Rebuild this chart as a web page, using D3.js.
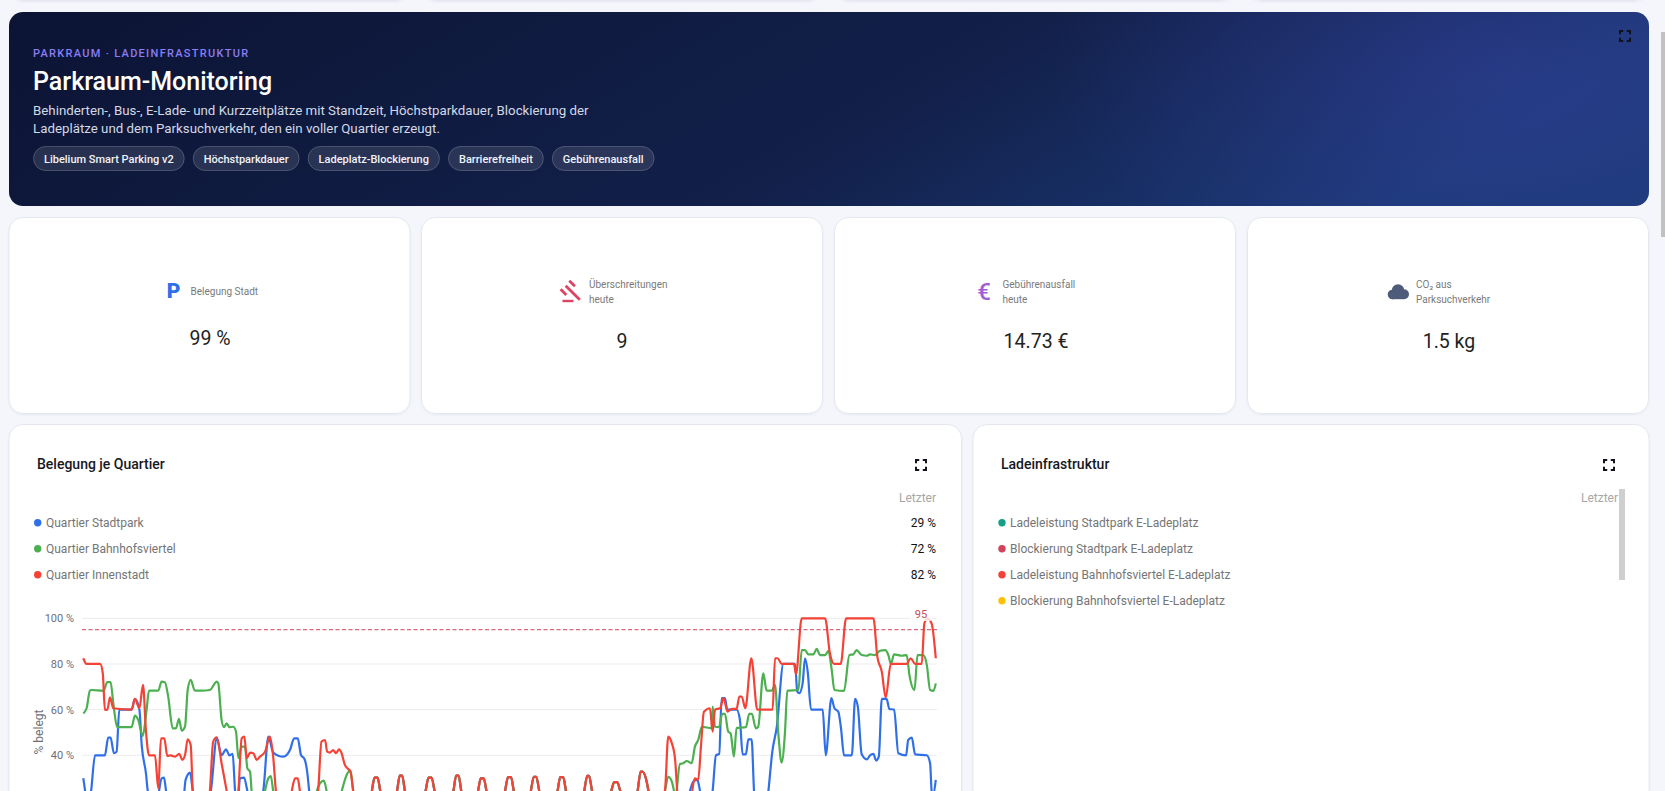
<!DOCTYPE html>
<html lang="de">
<head>
<meta charset="utf-8">
<title>Parkraum-Monitoring</title>
<script src="https://cdn.jsdelivr.net/npm/d3@7"></script>
<style>
  html, body { margin: 0; padding: 0; background: #f4f6fb; overflow: hidden; }
  svg { display: block; font-family: Roboto, sans-serif; }
</style>
</head>
<body>
<div id="page"></div>
<script>
// -- Texts
let heroEyebrow = 'PARKRAUM · LADEINFRASTRUKTUR'
let heroTitle = 'Parkraum-Monitoring'
let heroLines = ['Behinderten-, Bus-, E-Lade- und Kurzzeitplätze mit Standzeit, Höchstparkdauer, Blockierung der',
                 'Ladeplätze und dem Parksuchverkehr, den ein voller Quartier erzeugt.']
let chipLabels = ['Libelium Smart Parking v2', 'Höchstparkdauer', 'Ladeplatz-Blockierung', 'Barrierefreiheit', 'Gebührenausfall']

let statLabels = [['Belegung Stadt'], ['Überschreitungen', 'heute'], ['Gebührenausfall', 'heute'], ['CO₂ aus', 'Parksuchverkehr']]
let statValues = ['99 %', '9', '14.73 €', '1.5 kg']

let occupancyNames = ['Quartier Stadtpark', 'Quartier Bahnhofsviertel', 'Quartier Innenstadt']
let occupancyLast = ['29 %', '72 %', '82 %']
let occupancyColors = ['#2f6fe8', '#4caf50', '#f44336']

let chargingNames = ['Ladeleistung Stadtpark E-Ladeplatz', 'Blockierung Stadtpark E-Ladeplatz',
                     'Ladeleistung Bahnhofsviertel E-Ladeplatz', 'Blockierung Bahnhofsviertel E-Ladeplatz']
let chargingColors = ['#16a085', '#d1435b', '#f44336', '#ffc107']

let yTicks = [100, 80, 60, 40]
let limitValue = 95

// -- Sample numbers (5 min steps) and % values.
// Night section is the same for all three quarters, they overlap there.
let nightT = [94.5, 96.2, 97.1, 98.1, 99, 101.5, 104.6, 105.5, 106.3, 107.2, 110.5, 114.1, 115.1, 116.1, 117.1, 120,
              123.4, 124.3, 125.1, 126, 129, 131.6, 132.5, 133.5, 134.4, 137.5, 140.6, 141.6, 142.6, 143.5, 146.5,
              149.2, 150.2, 151, 152, 155, 158.1, 159, 160, 160.9, 164, 167, 168, 168.6, 169.6, 173,
              176, 177, 178, 179, 182, 184.8, 185.8, 186.4, 187.8, 188.4, 190]
let nightV = [12, 24.4, 30.2, 30.2, 24.4, 12, 24.4, 31.1, 31.1, 24.4, 12, 24.4, 30.2, 30.2, 24.4, 12,
              24.4, 31.1, 31.1, 24.4, 12, 24.4, 29.9, 29.9, 24.4, 12, 24.4, 30.4, 30.4, 24.4, 12,
              24.4, 30.6, 30.6, 24.4, 12, 24.4, 30.4, 30.4, 24.4, 12, 24.4, 31, 31, 24.4, 12,
              24.4, 28.2, 28.2, 24.4, 12, 24.4, 32.8, 32.8, 28.5, 24.4, 12]

let stadtparkDayT = [0, 0.6, 1.1, 2, 2.6, 3.9, 7.2, 8.3, 9.1, 10.2, 11.1, 12, 16.1, 17.2, 18.7, 19.5, 20.9, 21.5, 22.8, 24.7,
                     25.3, 26.1, 26.9, 27.6, 28.9, 33.3, 34.1, 35.6, 36.5, 37.8, 41.1, 42.5, 44.5, 46.1, 47.6, 48.7, 49.8,
                     50.6, 51.1, 51.8, 52.2, 53.6, 54.7, 55.6, 59.1, 60, 61.7, 63.3, 66.7, 68.9, 70.3, 71.5, 72.6, 73.7,
                     74.7, 75.3, 76.7]
let stadtparkDayV = [30, 24.4, 20, 20, 24.4, 40, 40, 47.7, 47.7, 40.9, 41.6, 60, 60, 64.7, 60, 44, 32, 24.4, 20, 20,
                     24.8, 29.9, 30.2, 24.4, 20, 20, 29.2, 32.4, 24.4, 20, 20, 24.4, 47.4, 40, 42.6, 40, 40.6,
                     24.4, 20, 24, 29.9, 30.2, 24.4, 20, 20, 24.4, 48.2, 41.2, 39.4, 42.3, 47.4, 47.4, 40, 38.5,
                     32.1, 24.4, 15]
let stadtparkEveT = [200, 203.4, 204.7, 205.6, 206.5, 208.9, 209.8, 210.9, 212, 212.8, 213.9, 214.7, 217.8, 218.9, 219.8, 220.9,
                     221.7, 222.8, 223.6, 224.5, 227.6, 228.4, 229.7, 231.2, 233.4, 237.3, 238, 238.7, 239.8, 240.6, 241.5,
                     242.6, 246.5, 247.5, 249.4, 250.4, 251.7, 252.6, 253.6, 256.2, 257.3, 258.2, 259.5, 261.2, 262.3, 263.4,
                     264.3, 265.2, 266.2, 267.8, 268.7, 270.3, 271.7, 274.3, 275, 276.2, 277.3, 281.2, 282.3, 282.8, 283.2, 284.2]
let stadtparkEveV = [15, 28.5, 29.2, 24.4, 18, 18, 24.4, 40, 40.6, 65, 65, 60, 60, 55.5, 40.4, 40.4,
                     47, 47, 24.4, 15, 15, 24.4, 41.6, 52.5, 80, 80, 68, 67.2, 71.5, 82.5, 76.6,
                     60, 60, 40, 65, 60.6, 59.1, 51.8, 40, 40, 64.7, 61.3, 40.4, 38.2, 40, 40.6,
                     37.7, 39.4, 64.7, 64.7, 60.3, 60, 40.9, 40, 46.7, 47.7, 40.4, 40, 36.5, 24.4, 22, 29.2]

let bahnhofDayT = [0, 1.1, 2.2, 2.8, 6.7, 8, 9.1, 10, 11.3, 16.1, 17.2, 18.3, 19.8, 21.1, 21.9, 25, 26.1, 27.2, 28.3, 29.8,
                   30.9, 31.9, 32.8, 33.9, 34.8, 35.8, 37.2, 39.5, 42.2, 44.5, 45, 46.1, 46.9, 47.8, 48.7, 50, 50.9, 51.7,
                   52.8, 53.9, 54.7, 55.6, 56.1, 57.2, 59.5, 60.6, 61.7, 62.5, 63.3, 64.5, 76.7, 77.8, 78.9, 80.2, 81.1,
                   82.2, 84.5, 86.1, 87.8, 88.9, 89.5, 90]
let bahnhofDayV = [58.4, 60.6, 68.3, 68.6, 68.2, 72, 72, 62.8, 52.3, 52.3, 57.4, 55.5, 48.5, 59.9, 68.3, 68.3, 72.3, 72, 65.7, 51.8,
                   51.8, 56, 50.8, 52.5, 68.6, 73, 68.3, 68.3, 68.6, 72.3, 71.5, 55.5, 52.3, 54, 52.3, 52.5, 50.4, 38.7,
                   43.8, 43.8, 34.3, 32.8, 24.4, 15, 15, 24.4, 29.9, 30.9, 24.4, 15, 15, 24, 27.7, 28.9, 24.4,
                   15, 15, 24, 31.4, 33.3, 30, 24]
let bahnhofEveT = [193.9, 195, 196.2, 196.9, 197.4, 197.8, 198.9, 200, 201.2, 202.8, 203.9, 205, 206.2, 209.5, 209.8, 210.6, 211.9,
                   213, 213.9, 215, 215.8, 216.9, 217.8, 220.9, 222, 222.9, 224.2, 225, 226.7, 227.8, 229.5, 230.6, 231.7,
                   232.8, 233.9, 234.7, 238.4, 239.5, 240.6, 241.7, 243.4, 244.5, 245.6, 247.3, 248.4, 249.5, 250.4, 253.6,
                   255.4, 256.7, 257.8, 259.5, 261.2, 262.3, 263.9, 265.6, 267.3, 268.4, 269.2, 270.3, 271.7, 272.8, 274.5,
                   275.4, 277.1, 278.1, 280, 281.2, 282.3, 283.4, 284.2]
let bahnhofEveV = [24.4, 30.6, 28.5, 24.4, 20, 24.4, 36.2, 36.5, 37.5, 36.5, 43.8, 46.7, 52.5, 51.8, 61.3, 52.5, 52.3,
                   58.1, 58.1, 50.4, 49.6, 39.4, 52, 52.3, 58.1, 58.1, 51.8, 52.5, 75.9, 68.3, 68.3, 70.8, 49.6,
                   36.8, 49.6, 68.3, 68.6, 86.1, 86.1, 84.2, 84.2, 86.6, 83.9, 83.9, 85.7, 77.4, 68.6, 68.2,
                   83.9, 84.2, 86.1, 83.9, 83.6, 84.2, 83.9, 85.8, 86.1, 83.9, 80, 84.2, 83.9, 83.6, 83.9,
                   75.2, 68.6, 83.9, 83.9, 79.6, 68.6, 68.2, 71.5]

let innenstadtDayT = [0, 1.1, 5.6, 6.5, 7.2, 8, 8.9, 10, 16.1, 17.2, 18.7, 19.9, 20.9, 21.9, 23.9, 25, 25.9, 27, 28, 29.1,
                      30.6, 32, 33, 33.9, 34.8, 35.8, 36.5, 37.8, 40.9, 42.2, 43.3, 44.5, 46.1, 47.8, 49.1, 50.6, 51.7, 52.8,
                      53.7, 54.5, 55.6, 56.7, 57.8, 58.9, 60.6, 62.2, 63.3, 64.2, 65.3, 68.3, 69.5, 70.6, 71.5, 72.2, 73.3,
                      77.2, 78.3, 79.4, 80.6, 81.3, 82.2, 83.3, 84.2, 85.3, 86.1, 87.2, 88.3, 89.1, 90]
let innenstadtDayV = [82.5, 80, 80, 75.9, 60, 59.9, 65.4, 60.6, 60, 64.7, 60.6, 70.8, 50.4, 40, 40, 25.5, 47.4, 47.4, 39.7, 40,
                      39.4, 40.6, 38, 40, 47, 44.5, 24.4, 15, 15, 24.4, 46, 47.9, 36.5, 24.4, 15, 15, 24.4, 47.4,
                      48.2, 38.7, 41.2, 40.9, 38, 39.4, 41.6, 48.2, 39.4, 24.4, 15, 15, 24.4, 29.9, 29.9, 24.4, 15,
                      15, 24.4, 46, 46.7, 41.6, 41.2, 42.3, 40.9, 42.6, 40.9, 35.8, 34, 32.8, 24.4]
let innenstadtEveT = [193.9, 195, 196.2, 197.3, 198, 199.2, 202.3, 203.2, 203.9, 205, 205.9, 206.9, 208.9, 209.8, 210.6, 212.3, 213.4,
                      214.8, 216.2, 217.8, 218.7, 219.5, 220.7, 222.7, 224.7, 229.8, 230.6, 231.5, 232.8, 236.9, 237.6, 239.5,
                      247.3, 248.9, 250.3, 252.5, 254.3, 263.4, 264.7, 266.2, 267.5, 269.2, 274.5, 275.8, 277.3, 279.5, 280.4,
                      281.4, 282.8, 284.2]
let innenstadtEveV = [24.4, 48.2, 45.3, 38, 24.4, 15, 15, 26.3, 29.9, 29.2, 43.8, 59.1, 60.6, 50.4, 60, 60.6, 65,
                      59.1, 60.3, 60.3, 65.7, 65.7, 60.6, 82.5, 60, 60, 82.5, 82.5, 80, 80, 75.6, 100,
                      100, 84.7, 80, 80, 100, 100, 83.2, 76.6, 65.3, 80, 80, 82.5, 80, 80, 97.8,
                      100, 97.8, 82.5]

let occupancyT = [stadtparkDayT.concat(nightT, stadtparkEveT), bahnhofDayT.concat(nightT, bahnhofEveT), innenstadtDayT.concat(nightT, innenstadtEveT)]
let occupancyV = [stadtparkDayV.concat(nightV, stadtparkEveV), bahnhofDayV.concat(nightV, bahnhofEveV), innenstadtDayV.concat(nightV, innenstadtEveV)]

let width = 1665
let height = 791

let svg = d3.select('#page').append('svg')
            .attr('width', width)
            .attr('height', height)

let defs = svg.append('defs')

let heroGrad = defs.append('linearGradient').attr('id', 'heroGrad')
                   .attr('x1', '0').attr('y1', '0').attr('x2', '1').attr('y2', '0.2')
heroGrad.append('stop').attr('offset', '0%').attr('stop-color', '#0c1434')
heroGrad.append('stop').attr('offset', '62%').attr('stop-color', '#12204a')
heroGrad.append('stop').attr('offset', '100%').attr('stop-color', '#1c3a78')

let heroGlow = defs.append('radialGradient').attr('id', 'heroGlow')
heroGlow.append('stop').attr('offset', '0%').attr('stop-color', '#5046c8').attr('stop-opacity', 0.24)
heroGlow.append('stop').attr('offset', '100%').attr('stop-color', '#5046c8').attr('stop-opacity', 0)

let cardShadow = defs.append('filter').attr('id', 'cardShadow').attr('x', '-5%').attr('y', '-5%').attr('width', '110%').attr('height', '110%')
cardShadow.append('feDropShadow').attr('dx', 0).attr('dy', 1).attr('stdDeviation', 1).attr('flood-color', '#1e2a4a').attr('flood-opacity', 0.05)

function card(x, y, w, h) {
    return svg.append('rect')
              .attr('x', x + 0.5).attr('y', y + 0.5)
              .attr('width', w - 1).attr('height', h - 1)
              .attr('rx', 14)
              .attr('fill', '#fff')
              .attr('stroke', '#e4e7ef')
              .attr('filter', 'url(#cardShadow)')
}

function label(x, y, text, size, color, weight) {
    return svg.append('text')
              .attr('x', x).attr('y', y)
              .attr('dominant-baseline', 'central')
              .attr('font-size', size)
              .attr('font-weight', weight || 400)
              .attr('fill', color)
              .text(text)
}

function fullscreenIcon(cx, cy) {
    let s = 5, c = 3.2
    let path = `M${cx - s},${cy - s + c}V${cy - s}H${cx - s + c} M${cx + s - c},${cy - s}H${cx + s}V${cy - s + c}`
             + `M${cx + s},${cy + s - c}V${cy + s}H${cx + s - c} M${cx - s + c},${cy + s}H${cx - s}V${cy + s - c}`
    svg.append('path').attr('d', path).attr('fill', 'none').attr('stroke', '#10131c').attr('stroke-width', 2)
}

let statCardX = [8.5, 421, 834, 1247]

// -- Slivers of the row scrolled away above the hero
statCardX.forEach((x) => card(x, -100, 402, 101))

// -- Hero
svg.append('rect').attr('x', 9).attr('y', 12).attr('width', 1640).attr('height', 194).attr('rx', 14).attr('fill', 'url(#heroGrad)')
svg.append('clipPath').attr('id', 'heroClip').append('rect').attr('x', 9).attr('y', 12).attr('width', 1640).attr('height', 194).attr('rx', 14)
svg.append('ellipse').attr('cx', 1480).attr('cy', 67).attr('rx', 430).attr('ry', 230)
   .attr('fill', 'url(#heroGlow)').attr('clip-path', 'url(#heroClip)')

label(33, 53, heroEyebrow, 11, '#8a7df5', 500).attr('letter-spacing', 1.3)
label(33, 81, heroTitle, 25, '#fff', 500)
heroLines.forEach((line, i) => label(33, 110 + i * 18.5, line, 13.3, '#d3d9e6'))

let chipX = 33
chipLabels.forEach((chip) => {
    let g = svg.append('g')
    let rect = g.append('rect').attr('y', 146.5).attr('height', 24).attr('rx', 12)
                .attr('fill', 'rgba(255,255,255,0.11)').attr('stroke', 'rgba(255,255,255,0.2)')
    let t = g.append('text').attr('y', 159).attr('dominant-baseline', 'central')
             .attr('font-size', 11).attr('font-weight', 500).attr('fill', '#f1f4fa')
             .attr('x', chipX + 11).text(chip)
    let w = t.node().getComputedTextLength() + 22
    rect.attr('x', chipX + 0.5).attr('width', w - 1)
    chipX += w + 8
})
fullscreenIcon(1625, 36)

// -- Stat cards
let statIconX = [173.5, 571.5, 984, 1398]
let statLabelX = [190.5, 589, 1002.5, 1416]
let statValueX = [210, 622, 1036, 1449]
let statColors = ['#2f6fe8', '#dc4463', '#a05fd6', '#4f5b7a']

statCardX.forEach((x) => card(x, 217, 402, 197))

statLabels.forEach((lines, i) => {
    let top = lines.length == 1 ? 291 : 284
    lines.forEach((line, j) => label(statLabelX[i], top + j * 15, line, 10, '#7a7a7a'))
    label(statValueX[i], lines.length == 1 ? 338 : 341, statValues[i], 19.5, '#222', 400).attr('text-anchor', 'middle')
})

// icons
label(statIconX[0], 291, 'P', 21, statColors[0], 900).attr('text-anchor', 'middle')
label(statIconX[2], 292, '€', 24, statColors[2], 500).attr('text-anchor', 'middle')
let gavel = svg.append('g').attr('fill', statColors[1]).attr('transform', 'translate(568.5,288.5) rotate(45)')
gavel.append('rect').attr('x', -5).attr('y', -7.5).attr('width', 8).attr('height', 2.8)
gavel.append('rect').attr('x', -5).attr('y', 4.7).attr('width', 8).attr('height', 2.8)
gavel.append('rect').attr('x', -4).attr('y', -1.4).attr('width', 20).attr('height', 2.8)
svg.append('rect').attr('x', 562.5).attr('y', 299.8).attr('width', 11).attr('height', 2.4).attr('fill', statColors[1])
let cloud = svg.append('g').attr('fill', statColors[3]).attr('transform', `translate(${statIconX[3]},292)`)
cloud.append('circle').attr('cx', -5.5).attr('cy', 2.5).attr('r', 4.8)
cloud.append('circle').attr('cx', 0).attr('cy', -1.5).attr('r', 6.2)
cloud.append('circle').attr('cx', 6).attr('cy', 2.2).attr('r', 5)
cloud.append('rect').attr('x', -6).attr('y', 1).attr('width', 12).attr('height', 6.2)

// -- Chart panels
card(8.5, 424, 953.5, 421)
card(972.5, 424, 677, 421)
label(37, 464, 'Belegung je Quartier', 14, '#16181d', 500)
label(1001, 464, 'Ladeinfrastruktur', 14, '#16181d', 500)
fullscreenIcon(921, 465)
fullscreenIcon(1609, 465)

// -- Legends
let legendY = [522.7, 548.7, 574.7, 600.7]

label(936, 497.5, 'Letzter', 12, '#a6a6a6').attr('text-anchor', 'end')
occupancyNames.forEach((name, i) => {
    svg.append('circle').attr('cx', 37.7).attr('cy', legendY[i]).attr('r', 3.7).attr('fill', occupancyColors[i])
    label(46, legendY[i], name, 12, '#757575')
    label(936, legendY[i], occupancyLast[i], 12, '#111', 400).attr('text-anchor', 'end')
})

label(1618, 497.5, 'Letzter', 12, '#a6a6a6').attr('text-anchor', 'end')
chargingNames.forEach((name, i) => {
    svg.append('circle').attr('cx', 1002).attr('cy', legendY[i]).attr('r', 3.7).attr('fill', chargingColors[i])
    label(1010, legendY[i], name, 12, '#757575')
})
svg.append('rect').attr('x', 1619).attr('y', 489).attr('width', 6).attr('height', 91).attr('fill', '#cfcfcf')

// -- Occupancy chart
let xScale = d3.scaleLinear().domain([0, d3.max(occupancyT[2])]).range([83.3, 935.8])
let yScale = d3.scaleLinear().domain([0, 100]).range([846.6, 618.3])

let yAxis = d3.axisLeft(yScale).tickValues(yTicks).tickSize(0).tickPadding(8).tickFormat((d) => d + ' %')
svg.append('g')
   .attr('transform', 'translate(82, 0)')
   .call(yAxis)
   .call((g) => g.select('.domain').remove())
   .call((g) => g.selectAll('text').attr('font-size', 11).attr('font-family', 'Roboto, sans-serif').attr('fill', '#6e7079'))

svg.append('g').selectAll('line')
   .data(yTicks)
   .enter()
   .append('line')
   .attr('x1', 82).attr('x2', 937)
   .attr('y1', (d) => yScale(d)).attr('y2', (d) => yScale(d))
   .attr('stroke', '#ececec')

svg.append('text')
   .attr('transform', `translate(39, 732) rotate(-90)`)
   .attr('text-anchor', 'middle')
   .attr('dominant-baseline', 'central')
   .attr('font-size', 12)
   .attr('fill', '#6e7079')
   .text('% belegt')

let line = d3.line()
             .x((d) => xScale(d[0]))
             .y((d) => yScale(d[1]))
             .curve(d3.curveMonotoneX)

occupancyNames.forEach((name, i) => {
    svg.append('path')
       .datum(d3.zip(occupancyT[i], occupancyV[i]))
       .attr('fill', 'none')
       .attr('stroke', occupancyColors[i])
       .attr('stroke-width', 2.2)
       .attr('stroke-linejoin', 'round')
       .attr('d', line)
})

// -- Limit line and its label
svg.append('line')
   .attr('x1', 82).attr('x2', 937)
   .attr('y1', yScale(limitValue)).attr('y2', yScale(limitValue))
   .attr('stroke', '#d1435b')
   .attr('stroke-dasharray', '4,2.5')
svg.append('rect').attr('x', 910).attr('y', 608).attr('width', 22).attr('height', 13)
   .attr('rx', 2).attr('fill', '#fff').attr('fill-opacity', 0.8)
label(921, yScale(limitValue) - 15, limitValue, 11, '#c44d63').attr('text-anchor', 'middle')

// -- Page scrollbar
svg.append('rect').attr('x', 1661).attr('y', 32).attr('width', 4).attr('height', 205).attr('fill', '#c1c1c1')
</script>
</body>
</html>
